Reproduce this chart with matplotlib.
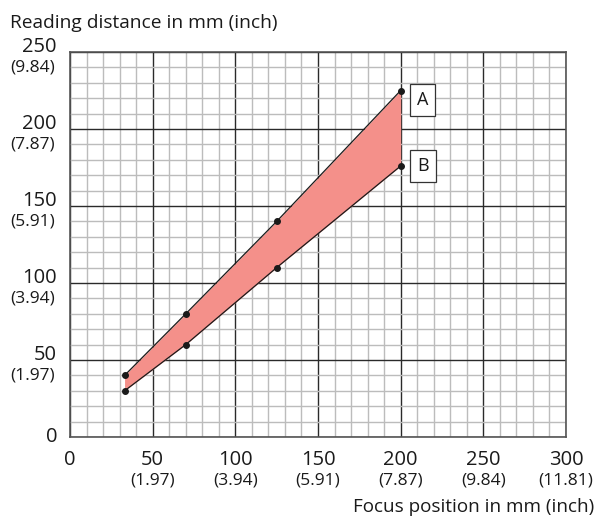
import matplotlib.pyplot as plt
import numpy as np

plt.rcParams['font.family'] = ['Open Sans', 'DejaVu Sans']

# focus position (mm) and reading distance limits (mm)
focus = [33, 70, 125, 200]
dist_a = [40, 80, 140, 225]
dist_b = [30, 60, 110, 176]

x_ticks = [0, 50, 100, 150, 200, 250, 300]
x_inch = ['', '(1.97)', '(3.94)', '(5.91)', '(7.87)', '(9.84)', '(11.81)']
y_ticks = [0, 50, 100, 150, 200, 250]
y_inch = ['', '(1.97)', '(3.94)', '(5.91)', '(7.87)', '(9.84)']

fig = plt.figure(figsize=(5.98, 5.16), dpi=100)
ax = fig.add_axes([70 / 598, 79 / 516, 496 / 598, 385 / 516])

ax.set_xlim(0, 300)
ax.set_ylim(0, 250)

# grid: minor every 10, major every 50
ax.set_xticks(np.arange(0, 301, 10), minor=True)
ax.set_yticks(np.arange(0, 251, 10), minor=True)
ax.set_xticks(x_ticks)
ax.set_yticks(y_ticks)
ax.grid(which='minor', color='#bcbcbc', lw=1.0, zorder=0)
ax.grid(which='major', color='#2a2a2a', lw=1.0, zorder=0.5)
ax.tick_params(which='both', length=0, labelbottom=False, labelleft=False)
for s in ax.spines.values():
    s.set_color('#555555')
    s.set_linewidth(1.2)

# shaded reading range
ax.fill_between(focus, dist_b, dist_a, color='#f4908a', lw=0, zorder=2)
ax.plot(focus, dist_a, color='#1a1a1a', lw=0.9, marker='o', ms=4, zorder=3)
ax.plot(focus, dist_b, color='#1a1a1a', lw=0.9, marker='o', ms=4, zorder=3)

# curve labels
box = dict(boxstyle='square,pad=0.38', fc='white', ec='#333333', lw=0.9)
ax.annotate('A', (focus[-1], dist_a[-1]), xytext=(16, -7), textcoords='offset points',
            fontsize=13, ha='center', va='center', bbox=box, zorder=4, color='#1a1a1a')
ax.annotate('B', (focus[-1], dist_b[-1]), xytext=(16, 0), textcoords='offset points',
            fontsize=13, ha='center', va='center', bbox=box, zorder=4, color='#1a1a1a')

# x tick labels (mm / inch)
xt = ax.get_xaxis_transform()
for v, inch in zip(x_ticks, x_inch):
    ax.annotate(str(v), (v, 0), xycoords=xt, xytext=(0, -20.5), textcoords='offset points',
                fontsize=14.5, ha='center', va='baseline', color='#1a1a1a')
    if inch:
        ax.annotate(inch, (v, 0), xycoords=xt, xytext=(0, -34.5), textcoords='offset points',
                    fontsize=12.5, ha='center', va='baseline', color='#1a1a1a')

# y tick labels (mm / inch)
yt = ax.get_yaxis_transform()
for v, inch in zip(y_ticks, y_inch):
    if v == 0:
        ax.annotate('0', (0, v), xycoords=yt, xytext=(-9, -3.6), textcoords='offset points',
                    fontsize=14.5, ha='right', va='baseline', color='#1a1a1a')
        continue
    ax.annotate(str(v), (0, v), xycoords=yt, xytext=(-9.5, 0), textcoords='offset points',
                fontsize=14.5, ha='right', va='baseline', color='#1a1a1a')
    ax.annotate(inch, (0, v), xycoords=yt, xytext=(-10.8, -14), textcoords='offset points',
                fontsize=12.5, ha='right', va='baseline', color='#1a1a1a')

fig.text(10 / 598, 1 - 27.5 / 516, 'Reading distance in mm (inch)', fontsize=13.8,
         ha='left', va='baseline', color='#1a1a1a')
fig.text(594 / 598, 1 - 511.5 / 516, 'Focus position in mm (inch)', fontsize=13.6,
         ha='right', va='baseline', color='#1a1a1a')

fig.savefig('out.png', dpi=100)
